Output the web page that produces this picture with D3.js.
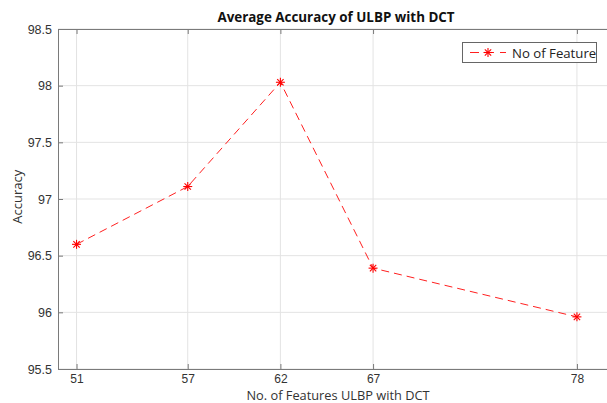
<!DOCTYPE html>
<html>
<head>
<meta charset="utf-8">
<script src="https://cdn.jsdelivr.net/npm/d3@7"></script>
<style>
  body { margin: 0; background: #fff; }
  svg { display: block; font-family: "Open Sans", "Liberation Sans", sans-serif; }
  .grid line { stroke: #e3e3e3; stroke-width: 1; }
  .axis path, .axis line { stroke: #7a7a7a; }
  .axis text { fill: #333; font-size: 12.5px; }
  .axis.xb text { font-size: 12px; }
</style>
</head>
<body>
<div id="chart"></div>
<script>
var features = [51, 57, 62, 67, 78];
var accuracy = [96.6, 97.11, 98.03, 96.39, 95.96];
var yTicks = [95.5, 96, 96.5, 97, 97.5, 98, 98.5];

var width = 607, height = 403;
var margin = {top: 29, right: -7, bottom: 34, left: 58};

var svg = d3.select("#chart").append("svg")
  .attr("width", width)
  .attr("height", height);

var x = d3.scaleLinear().domain([50, 80]).range([margin.left, width - margin.right]);
var y = d3.scaleLinear().domain([95.5, 98.5]).range([height - margin.bottom, margin.top]);

// grid
var grid = svg.append("g").attr("class", "grid");
grid.selectAll("line.v")
  .data(features)
  .enter().append("line")
  .attr("x1", function (d) { return x(d); })
  .attr("x2", function (d) { return x(d); })
  .attr("y1", y(98.5))
  .attr("y2", y(95.5));
grid.selectAll("line.h")
  .data(yTicks)
  .enter().append("line")
  .attr("x1", x(50))
  .attr("x2", x(80))
  .attr("y1", function (d) { return y(d); })
  .attr("y2", function (d) { return y(d); });

// axes, ticks pointing inward
svg.append("g")
  .attr("class", "axis xb")
  .attr("transform", "translate(0," + y(95.5) + ")")
  .call(d3.axisBottom(x).tickValues(features).tickSizeInner(-5).tickSizeOuter(0).tickPadding(5));

svg.append("g")
  .attr("class", "axis")
  .attr("transform", "translate(0," + y(98.5) + ")")
  .call(d3.axisTop(x).tickValues(features).tickSizeInner(-5).tickSizeOuter(0).tickFormat(""));

svg.append("g")
  .attr("class", "axis")
  .attr("transform", "translate(" + x(50) + ",0)")
  .call(d3.axisLeft(y).tickValues(yTicks).tickSizeInner(-5).tickSizeOuter(0).tickPadding(6)
    .tickFormat(function (d) { return d3.format("")(d); }));

// line
var line = d3.line()
  .x(function (d, i) { return x(features[i]); })
  .y(function (d) { return y(d); });

svg.append("path")
  .datum(accuracy)
  .attr("fill", "none")
  .attr("stroke", "#ff2020")
  .attr("stroke-width", 1)
  .attr("stroke-dasharray", "8,5")
  .attr("d", line);

function asterisk(g, cx, cy, r) {
  [0, 45, 90, 135].forEach(function (a) {
    var t = a * Math.PI / 180;
    g.append("line")
      .attr("x1", cx - r * Math.cos(t)).attr("y1", cy - r * Math.sin(t))
      .attr("x2", cx + r * Math.cos(t)).attr("y2", cy + r * Math.sin(t))
      .attr("stroke", "#ff0000").attr("stroke-width", 1.1);
  });
}

var marks = svg.append("g");
accuracy.forEach(function (d, i) {
  asterisk(marks, x(features[i]), y(d), 4.5);
});

// labels
svg.append("text")
  .attr("x", 336).attr("y", 22)
  .attr("text-anchor", "middle")
  .attr("font-size", "13.4px").attr("font-weight", "bold").attr("fill", "#111")
  .text("Average Accuracy of ULBP with DCT");

svg.append("text")
  .attr("x", 338).attr("y", 399.5)
  .attr("text-anchor", "middle")
  .attr("font-size", "12.8px").attr("fill", "#333")
  .text("No. of Features ULBP with DCT");

svg.append("text")
  .attr("transform", "translate(22," + y(97.02) + ") rotate(-90)")
  .attr("text-anchor", "middle")
  .attr("font-size", "13px").attr("fill", "#333")
  .text("Accuracy");

// legend
var legend = svg.append("g");
legend.append("rect")
  .attr("x", 462.5).attr("y", 42.5)
  .attr("width", 134).attr("height", 20)
  .attr("fill", "#fff").attr("stroke", "#666");
legend.append("line")
  .attr("x1", 470).attr("x2", 506).attr("y1", 52.5).attr("y2", 52.5)
  .attr("stroke", "#ff2020").attr("stroke-dasharray", "9,6");
asterisk(legend, 488, 52.5, 4.5);
legend.append("text")
  .attr("x", 512).attr("y", 57.5)
  .attr("font-size", "13.2px").attr("fill", "#222")
  .text("No of Feature");
</script>
</body>
</html>
